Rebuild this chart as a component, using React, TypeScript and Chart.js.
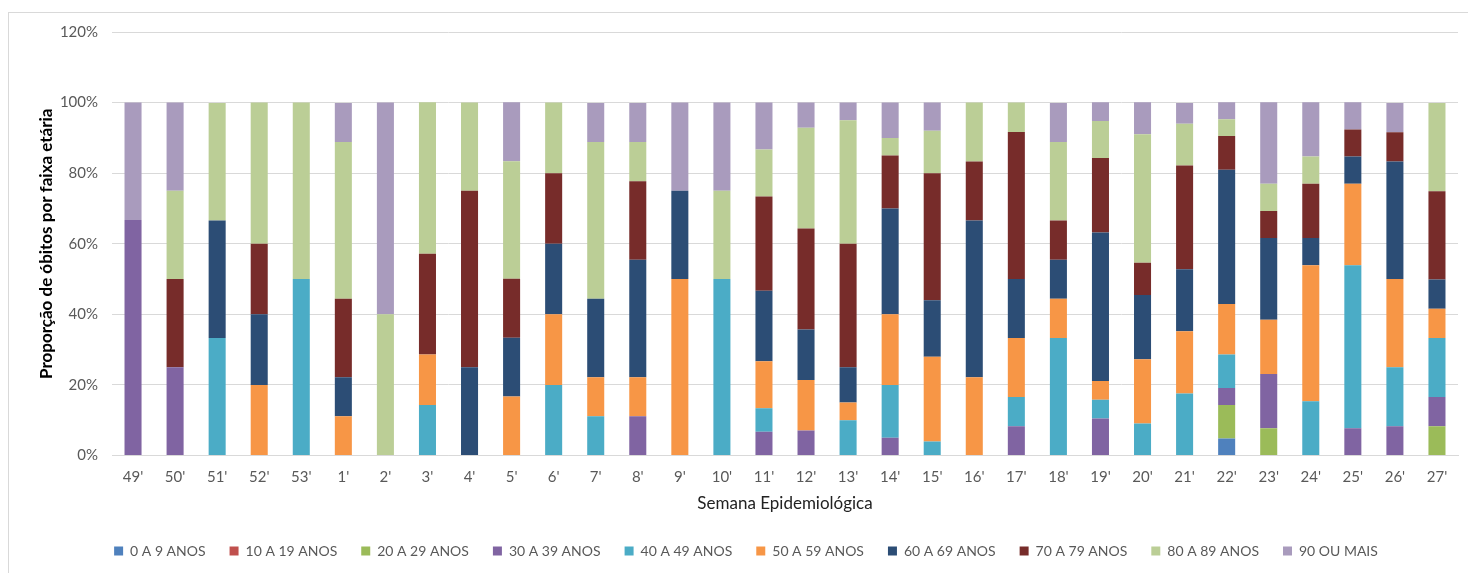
import React, { useEffect, useRef } from "react";
import { Chart, registerables } from "chart.js";

Chart.register(...registerables);

const weeks = ["49'", "50'", "51'", "52'", "53'", "1'", "2'", "3'", "4'", "5'", "6'", "7'", "8'", "9'", "10'", "11'", "12'", "13'", "14'", "15'", "16'", "17'", "18'", "19'", "20'", "21'", "22'", "23'", "24'", "25'", "26'", "27'"];

const age0_9 = [0, 0, 0, 0, 0, 0, 0, 0, 0, 0, 0, 0, 0, 0, 0, 0, 0, 0, 0, 0, 0, 0, 0, 0, 0, 0, 4.8, 0, 0, 0, 0, 0];
const age10_19 = [0, 0, 0, 0, 0, 0, 0, 0, 0, 0, 0, 0, 0, 0, 0, 0, 0, 0, 0, 0, 0, 0, 0, 0, 0, 0, 0, 0, 0, 0, 0, 0];
const age20_29 = [0, 0, 0, 0, 0, 0, 0, 0, 0, 0, 0, 0, 0, 0, 0, 0, 0, 0, 0, 0, 0, 0, 0, 0, 0, 0, 9.5, 7.7, 0, 0, 0, 8.3];
const age30_39 = [66.7, 25, 0, 0, 0, 0, 0, 0, 0, 0, 0, 0, 11.1, 0, 0, 6.7, 7.1, 0, 5, 0, 0, 8.3, 0, 10.5, 0, 0, 4.8, 15.4, 0, 7.7, 8.3, 8.3];
const age40_49 = [0, 0, 33.3, 0, 50, 0, 0, 14.3, 0, 0, 20, 11.1, 0, 0, 50, 6.7, 0, 10, 15, 4, 0, 8.3, 33.3, 5.3, 9.1, 17.6, 9.5, 0, 15.4, 46.2, 16.7, 16.7];
const age50_59 = [0, 0, 0, 20, 0, 11.1, 0, 14.3, 0, 16.7, 20, 11.1, 11.1, 50, 0, 13.3, 14.3, 5, 20, 24, 22.2, 16.7, 11.1, 5.3, 18.2, 17.6, 14.3, 15.4, 38.5, 23.1, 25, 8.3];
const age60_69 = [0, 0, 33.3, 20, 0, 11.1, 0, 0, 25, 16.7, 20, 22.2, 33.3, 25, 0, 20, 14.3, 10, 30, 16, 44.4, 16.7, 11.1, 42.1, 18.2, 17.6, 38.1, 23.1, 7.7, 7.7, 33.3, 8.3];
const age70_79 = [0, 25, 0, 20, 0, 22.2, 0, 28.6, 50, 16.7, 20, 0, 22.2, 0, 0, 26.7, 28.6, 35, 15, 36, 16.7, 41.7, 11.1, 21.1, 9.1, 29.4, 9.5, 7.7, 15.4, 7.7, 8.3, 25];
const age80_89 = [0, 25, 33.3, 40, 50, 44.4, 40, 42.9, 25, 33.3, 20, 44.4, 11.1, 0, 25, 13.3, 28.6, 35, 5, 12, 16.7, 8.3, 22.2, 10.5, 36.4, 11.8, 4.8, 7.7, 7.7, 0, 0, 25];
const age90 = [33.3, 25, 0, 0, 0, 11.1, 60, 0, 0, 16.7, 0, 11.1, 11.1, 25, 25, 13.3, 7.1, 5, 10, 8, 0, 0, 11.1, 5.3, 9.1, 5.9, 4.8, 23.1, 15.4, 7.7, 8.3, 0];

const seriesLabels = ["0 A 9 ANOS", "10 A 19 ANOS", "20 A 29 ANOS", "30 A 39 ANOS", "40 A 49 ANOS", "50 A 59 ANOS", "60 A 69 ANOS", "70 A 79 ANOS", "80 A 89 ANOS", "90 OU MAIS"];
const seriesValues = [age0_9, age10_19, age20_29, age30_39, age40_49, age50_59, age60_69, age70_79, age80_89, age90];
const seriesColors = ["#4F81BD", "#C0504D", "#9BBB59", "#8064A2", "#4BACC6", "#F79646", "#2C4D75", "#772C2A", "#BBCE96", "#A99BBD"];

const yTicks = [0, 20, 40, 60, 80, 100, 120];

const FONT = "Lato, 'Liberation Sans', sans-serif";

export default function App() {
  const ref = useRef<HTMLCanvasElement>(null);

  useEffect(() => {
    const canvas = ref.current;
    if (!canvas) return;
    const chart = new Chart(canvas, {
      type: "bar",
      data: {
        labels: weeks,
        datasets: seriesLabels.map((label, i) => ({
          label,
          data: seriesValues[i],
          backgroundColor: seriesColors[i],
          borderWidth: 0,
          barPercentage: 0.405,
          categoryPercentage: 1,
        })),
      },
      options: {
        responsive: false,
        animation: false,
        layout: { padding: { left: 34, right: 10, top: 32, bottom: 5 } },
        plugins: {
          tooltip: { enabled: false },
          legend: {
            position: "bottom",
            labels: {
              boxWidth: 9,
              boxHeight: 9,
              padding: 24,
              color: "#595959",
              font: { family: FONT, size: 14 },
            },
          },
        },
        scales: {
          x: {
            stacked: true,
            grid: { display: false, drawTicks: false },
            border: { display: true, color: "#d9d9d9" },
            ticks: { color: "#595959", padding: 13, font: { family: FONT, size: 15 }, maxRotation: 0, autoSkip: false },
            title: {
              display: true,
              text: "Semana Epidemiológica",
              color: "#222",
              font: { family: FONT, size: 17 },
              padding: { top: 0, bottom: 6.4 },
            },
            afterFit: (scale: any) => {
              scale.height = 64.5;
            },
          },
          y: {
            stacked: true,
            min: 0,
            max: 120,
            afterBuildTicks: (scale: any) => {
              scale.ticks = yTicks.map((v) => ({ value: v }));
            },
            grid: { color: "#d9d9d9", drawTicks: false, lineWidth: 1 },
            border: { display: false },
            ticks: {
              color: "#595959",
              padding: 14,
              font: { family: FONT, size: 15 },
              callback: (v: any) => v + "%",
            },
            title: {
              display: true,
              text: "Proporção de óbitos por faixa etária",
              color: "#000",
              font: { family: FONT, size: 17, weight: "bold" },
              padding: { top: 2, bottom: 4 },
            },
            afterFit: (scale: any) => {
              scale.width = 78;
            },
          },
        },
      },
    });
    return () => chart.destroy();
  }, []);

  return (
    <div style={{ position: "fixed", left: 0, top: 0, width: 1468, height: 573, background: "#fff", overflow: "hidden" }}>
      <div style={{ position: "absolute", left: 8, top: 12, width: 1500, height: 620, border: "1px solid #d9d9d9" }} />
      <canvas ref={ref} width={1468} height={573} style={{ position: "absolute", left: 0, top: 0, width: 1468, height: 573 }} />
    </div>
  );
}
